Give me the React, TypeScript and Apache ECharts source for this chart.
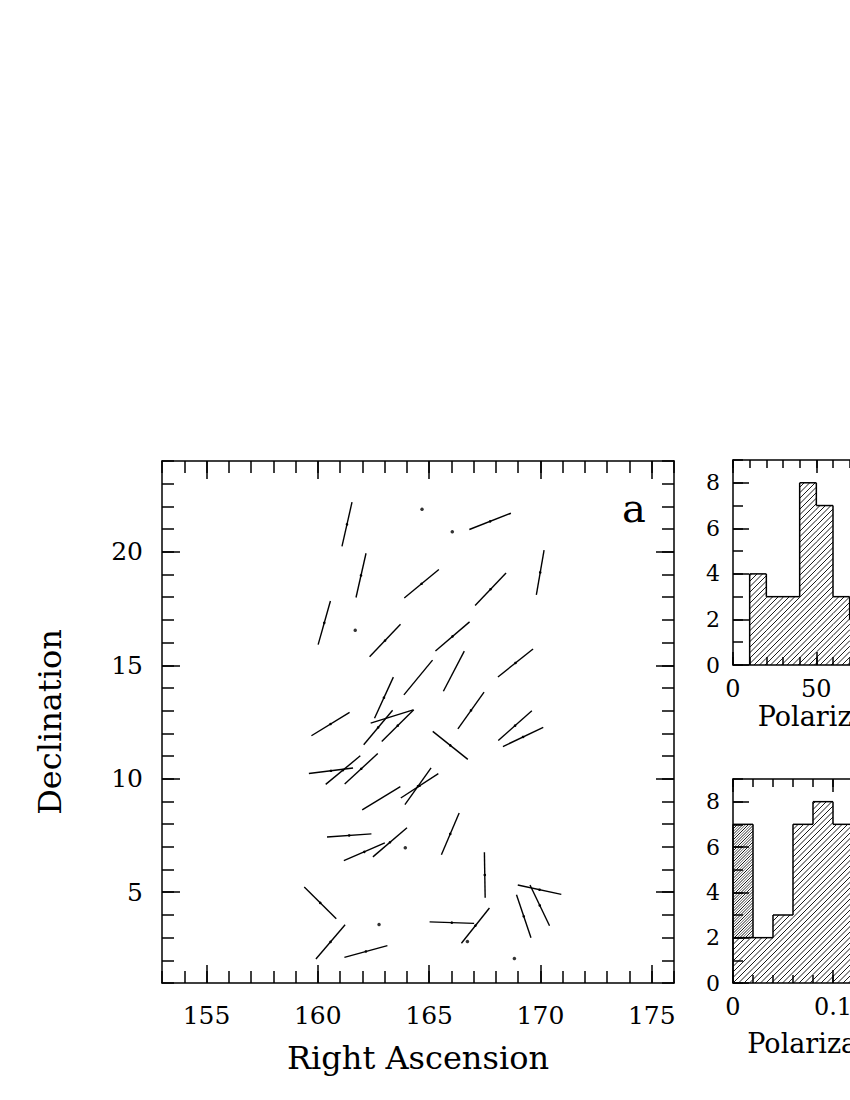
import React, { useEffect, useRef } from "react";
import * as echarts from "echarts";

// ---------- data ----------
// Polarization vectors (fixed length, drawn along the position angle, north through east)
const vectorRA = [161.31, 167.74, 161.94, 164.66, 167.76, 169.99, 160.29, 163.02, 166.05, 166.11,
  164.51, 168.88, 162.97, 163.33, 162.71, 163.59, 160.57, 166.88, 165.95, 168.86,
  169.22, 160.59, 161.13, 161.95, 162.85, 164.57, 164.5, 161.41, 162.09, 163.24,
  165.95, 167.5, 169.96, 169.97, 169.25, 160.11, 160.57, 162.16, 166.02, 167.08];
const vectorDec = [21.21, 21.34, 18.96, 18.59, 18.35, 19.09, 16.87, 16.09, 16.27, 14.74,
  14.46, 15.1, 13.57, 12.74, 12.26, 12.34, 12.41, 13.01, 11.47, 12.34,
  11.84, 10.35, 10.38, 10.44, 9.14, 9.69, 9.67, 7.5, 6.78, 7.2,
  7.57, 5.76, 5.11, 4.42, 3.94, 4.53, 2.81, 2.39, 3.66, 3.53];
const vectorPA = [13, 69, 13, 51, 44, 10, 16, 44, 50, 28,
  40, 52, 25, 73, 40.5, 46, 59, 36, 128, 49,
  65, 83, 51, 48, 59, 57.5, 36, 86, 67, 50,
  23.5, 179, 102, 154, 161, 134, 41, 75, 92, 39];
// Stars with negligible polarization (plotted as dots)
const unpolRA = [164.68, 166.04, 161.68, 163.93, 162.75, 166.72, 168.83];
const unpolDec = [21.87, 20.88, 16.54, 6.96, 3.58, 2.83, 2.08];
const VECTOR_LENGTH = 2; // degrees on the sky

// Histogram of polarization angle (bins of 10 deg)
const angleBinEdges = [0, 10, 20, 30, 40, 50, 60, 70, 80, 90, 100, 110, 120, 130, 140, 150, 160, 170, 180];
const angleCounts = [0, 4, 3, 3, 8, 7, 3, 2, 2, 1, 1, 0, 1, 1, 0, 1, 1, 1];
// Histogram of polarization degree (bins of 0.02)
const degreeBinEdges = [0, 0.02, 0.04, 0.06, 0.08, 0.1, 0.12, 0.14, 0.16, 0.18, 0.2, 0.22, 0.24, 0.26, 0.28, 0.3];
const degreeCounts = [7, 2, 3, 7, 8, 7, 5, 3, 2, 1, 1, 1, 0, 0, 0];
// doubly hatched part of the first degree bin
const degreeOverlapBin = [0, 0.02];
const degreeOverlapRange = [2, 7];

// tick labels
const raLabels = [155, 160, 165, 170, 175];
const decLabels = [5, 10, 15, 20];
const angleLabels = [0, 50, 100, 150];
const degreeLabels = [0, 0.1, 0.2, 0.3];
const countLabels = [0, 2, 4, 6, 8];

// ---------- helpers ----------
const FONT = "DejaVu Serif";
const LINE = { color: "#000", width: 1.5 };

function steps(a: number, b: number, s: number): number[] {
  const out: number[] = [];
  const n = Math.round((b - a) / s);
  for (let i = 0; i <= n; i++) out.push(Math.round((a + i * s) * 1e6) / 1e6);
  return out;
}

type AxisCfg = {
  grid: number; min: number; max: number;
  minor: number[]; major: number[]; minorLen: number; majorLen: number;
  labels: number[]; labelSize: number; labelMargin: number;
  name?: string; nameGap?: number; nameSize?: number;
};

function axisSet(kind: "x" | "y", c: AxisCfg) {
  const base: any = { type: "value", gridIndex: c.grid, min: c.min, max: c.max, splitLine: { show: false } };
  const p1 = kind === "x" ? "bottom" : "left";
  const p2 = kind === "x" ? "top" : "right";
  const tick = (len: number, vals: number[]) => ({ show: true, inside: true, length: len, customValues: vals, lineStyle: LINE });
  return [
    {
      ...base, position: p1,
      axisLine: { show: true, onZero: false, lineStyle: LINE },
      axisTick: tick(c.minorLen, c.minor),
      axisLabel: { show: true, customValues: c.labels, margin: c.labelMargin, fontSize: c.labelSize, color: "#000", fontFamily: FONT },
      name: c.name, nameLocation: "middle", nameGap: c.nameGap,
      nameTextStyle: { fontSize: c.nameSize, color: "#000", fontFamily: FONT },
    },
    { ...base, position: p1, axisLine: { show: false, onZero: false }, axisTick: tick(c.majorLen, c.major), axisLabel: { show: false } },
    { ...base, position: p2, axisLine: { show: true, onZero: false, lineStyle: LINE }, axisTick: tick(c.minorLen, c.minor), axisLabel: { show: false } },
    { ...base, position: p2, axisLine: { show: false, onZero: false }, axisTick: tick(c.majorLen, c.major), axisLabel: { show: false } },
  ];
}

const HATCH = 5.5;
function hatchLines(xL: number, xR: number, yT: number, yB: number, off: number, w: number) {
  const out: any[] = [];
  if (xR - xL < 0.5 || yB - yT < 0.5) return out;
  let c = Math.ceil((xL + yT - off) / HATCH) * HATCH + off;
  for (; c <= xR + yB; c += HATCH) {
    const xa = Math.max(xL, c - yB);
    const xb = Math.min(xR, c - yT);
    if (xb > xa) {
      out.push({ type: "line", shape: { x1: xa, y1: c - xa, x2: xb, y2: c - xb }, style: { stroke: "#000", lineWidth: w } });
    }
  }
  return out;
}

function histData(edges: number[], counts: number[]) {
  return counts.map((h, i) => [edges[i], edges[i + 1], h, i === 0 ? 0 : counts[i - 1], i === counts.length - 1 ? 1 : 0]);
}

function histRender(_p: any, api: any) {
  const x0 = api.value(0), x1 = api.value(1), h = api.value(2), hp = api.value(3), last = api.value(4);
  const tl = api.coord([x0, h]);
  const br = api.coord([x1, 0]);
  const prev = api.coord([x0, hp]);
  const ln = { stroke: "#000", lineWidth: 1.5 };
  const children: any[] = hatchLines(tl[0], br[0], tl[1], br[1], 0, 0.9);
  if (h > 0) children.push({ type: "line", shape: { x1: tl[0], y1: tl[1], x2: br[0], y2: tl[1] }, style: ln });
  if (h !== hp) children.push({ type: "line", shape: { x1: tl[0], y1: prev[1], x2: tl[0], y2: tl[1] }, style: ln });
  if (last && h > 0) children.push({ type: "line", shape: { x1: br[0], y1: tl[1], x2: br[0], y2: br[1] }, style: ln });
  return { type: "group", children };
}

function overlapRender(_p: any, api: any) {
  const tl = api.coord([api.value(0), api.value(3)]);
  const br = api.coord([api.value(1), api.value(2)]);
  const children: any[] = hatchLines(tl[0], br[0], tl[1], br[1], HATCH / 2, 0.6);
  children.push({ type: "line", shape: { x1: tl[0], y1: br[1], x2: br[0], y2: br[1] }, style: { stroke: "#000", lineWidth: 1.5 } });
  return { type: "group", children };
}

function vectorRender(_p: any, api: any) {
  const ra = api.value(0), dec = api.value(1), pa = (api.value(2) * Math.PI) / 180;
  const h = VECTOR_LENGTH / 2;
  const a = api.coord([ra - Math.sin(pa) * h, dec - Math.cos(pa) * h]);
  const b = api.coord([ra + Math.sin(pa) * h, dec + Math.cos(pa) * h]);
  const c = api.coord([ra, dec]);
  return {
    type: "group",
    children: [
      { type: "line", shape: { x1: a[0], y1: a[1], x2: b[0], y2: b[1] }, style: { stroke: "#000", lineWidth: 1.4 } },
      { type: "circle", shape: { cx: c[0], cy: c[1], r: 1.3 }, style: { fill: "#000" } },
    ],
  };
}

function buildOption(): any {
  const mainX = axisSet("x", {
    grid: 0, min: 153, max: 176, minor: steps(153, 176, 1), major: steps(155, 175, 5), minorLen: 12, majorLen: 18,
    labels: raLabels, labelSize: 25, labelMargin: 20, name: "Right Ascension", nameGap: 59, nameSize: 32,
  });
  const mainY = axisSet("y", {
    grid: 0, min: 1, max: 24, minor: steps(1, 24, 1), major: steps(5, 20, 5), minorLen: 12, majorLen: 18,
    labels: decLabels, labelSize: 25, labelMargin: 19, name: "Declination", nameGap: 96, nameSize: 32,
  });
  const angX = axisSet("x", {
    grid: 1, min: 0, max: 180, minor: steps(0, 180, 10), major: steps(0, 150, 50), minorLen: 8, majorLen: 13,
    labels: angleLabels, labelSize: 24, labelMargin: 12, name: "Polarization Angle", nameGap: 38, nameSize: 27,
  });
  const angY = axisSet("y", {
    grid: 1, min: 0, max: 9, minor: steps(0, 9, 1), major: steps(0, 8, 2), minorLen: 10, majorLen: 16,
    labels: countLabels, labelSize: 22, labelMargin: 13,
  });
  const degX = axisSet("x", {
    grid: 2, min: 0, max: 0.3, minor: steps(0, 0.3, 0.02), major: steps(0, 0.3, 0.1), minorLen: 8, majorLen: 13,
    labels: degreeLabels, labelSize: 24, labelMargin: 12, name: "Polarization Degree", nameGap: 47, nameSize: 27,
  });
  const degY = axisSet("y", {
    grid: 2, min: 0, max: 9, minor: steps(0, 9, 1), major: steps(0, 8, 2), minorLen: 10, majorLen: 16,
    labels: countLabels, labelSize: 22, labelMargin: 13,
  });

  return {
    animation: false,
    backgroundColor: "#fff",
    textStyle: { fontFamily: FONT, color: "#000" },
    grid: [
      { left: 162, top: 461, width: 512, height: 522 },
      { left: 733, top: 460, width: 300, height: 205 },
      { left: 733, top: 779, width: 300, height: 204 },
    ],
    xAxis: [...mainX, ...angX, ...degX],
    yAxis: [...mainY, ...angY, ...degY],
    graphic: [
      {
        type: "text", x: 634, y: 508, silent: true,
        style: { text: "a", fontSize: 40, fontFamily: FONT, fill: "#000", textAlign: "center", textVerticalAlign: "middle", verticalAlign: "middle" },
      },
    ],
    series: [
      {
        type: "custom", name: "vectors", xAxisIndex: 0, yAxisIndex: 0, silent: true,
        renderItem: vectorRender,
        data: vectorRA.map((ra, i) => [ra, vectorDec[i], vectorPA[i]]),
      },
      {
        type: "scatter", name: "unpolarized", xAxisIndex: 0, yAxisIndex: 0, silent: true,
        symbol: "circle", symbolSize: 3.5, itemStyle: { color: "#000" },
        data: unpolRA.map((ra, i) => [ra, unpolDec[i]]),
      },
      {
        type: "custom", name: "angle", xAxisIndex: 4, yAxisIndex: 4, silent: true,
        renderItem: histRender, data: histData(angleBinEdges, angleCounts),
      },
      {
        type: "custom", name: "degree", xAxisIndex: 8, yAxisIndex: 8, silent: true,
        renderItem: histRender, data: histData(degreeBinEdges, degreeCounts),
      },
      {
        type: "custom", name: "degreeOverlap", xAxisIndex: 8, yAxisIndex: 8, silent: true,
        renderItem: overlapRender,
        data: [[degreeOverlapBin[0], degreeOverlapBin[1], degreeOverlapRange[0], degreeOverlapRange[1]]],
      },
    ],
  };
}

export default function App() {
  const ref = useRef<HTMLDivElement>(null);
  useEffect(() => {
    if (!ref.current) return;
    const chart = echarts.init(ref.current, null, { renderer: "svg" });
    chart.setOption(buildOption());
    return () => chart.dispose();
  }, []);
  return (
    <div style={{ position: "absolute", left: 0, top: 0, width: 850, height: 1100, overflow: "hidden", background: "#fff" }}>
      <div ref={ref} style={{ width: 1100, height: 1100 }} />
    </div>
  );
}
